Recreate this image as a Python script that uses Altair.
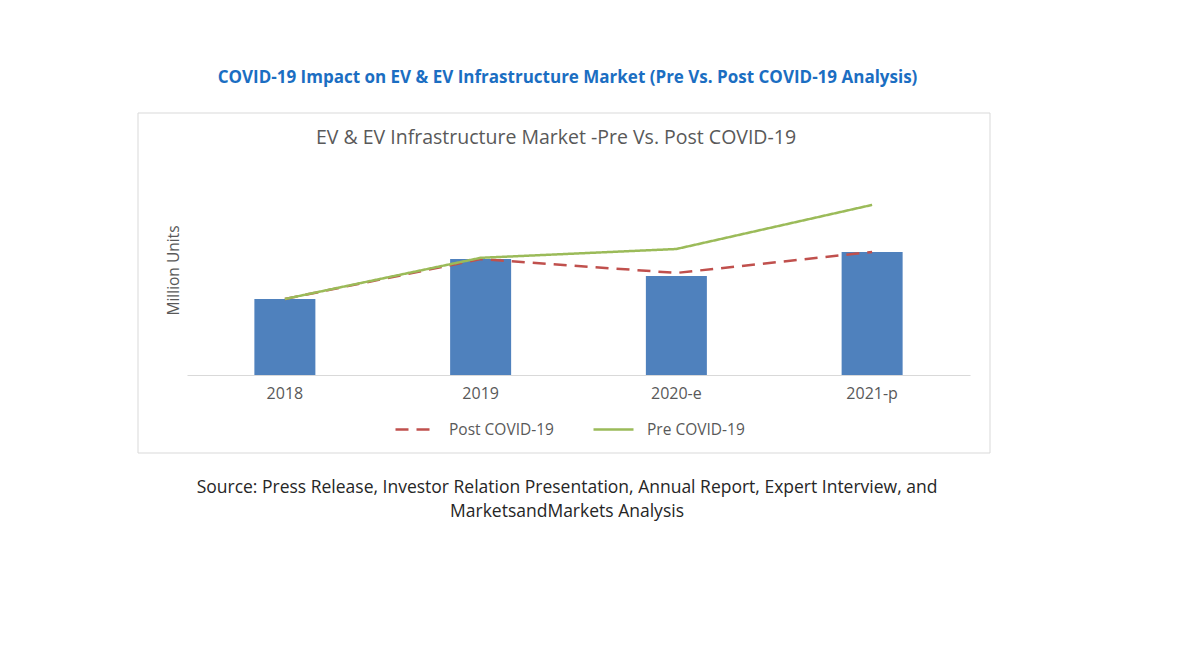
import altair as alt
import pandas as pd

FONT = "Open Sans"

years = ["2018", "2019", "2020-e", "2021-p"]
bar_values = [1.81, 2.76, 2.36, 2.93]
post_values = [1.81, 2.76, 2.43, 2.93]
pre_values = [1.81, 2.79, 3.00, 4.05]
series_names = ["Post COVID-19", "Pre COVID-19"]
series_colors = ["#C0504D", "#9BBB59"]

main_title = "COVID-19 Impact on EV & EV Infrastructure Market (Pre Vs. Post COVID-19 Analysis)"
inner_title = "EV & EV Infrastructure Market -Pre Vs. Post COVID-19"
source_lines = [
    "Source: Press Release, Investor Relation Presentation, Annual Report, Expert Interview, and",
    "MarketsandMarkets Analysis",
]

bars_df = pd.DataFrame({"year": years, "value": bar_values})
lines_df = pd.DataFrame({
    "year": years + years,
    "value": post_values + pre_values,
    "series": [series_names[0]] * len(years) + [series_names[1]] * len(years),
})
one = pd.DataFrame({"k": [0]})

W, H = 783, 210

x_enc = alt.X(
    "year:N", sort=years,
    scale=alt.Scale(paddingInner=0, paddingOuter=0),
    axis=alt.Axis(title=None, labelAngle=0, ticks=False, domainColor="#d9d9d9",
                  labelColor="#595959", labelFontSize=16, labelPadding=10,
                  labelFont=FONT, grid=False),
)
y_enc = alt.Y(
    "value:Q",
    scale=alt.Scale(domain=[0, 5], nice=False),
    axis=alt.Axis(title="Million Units", labels=False, ticks=False, domain=False,
                  grid=False, titleColor="#595959", titleFontSize=15.5, titleFont=FONT,
                  titleFontWeight="normal", titlePadding=6),
)

legend = alt.Legend(
    orient="none", legendX=207, legendY=243, direction="horizontal", title=None,
    symbolType="stroke", symbolSize=1600, symbolStrokeWidth=2.5,
    labelFontSize=15.5, labelColor="#595959", labelFont=FONT,
    columnPadding=34, labelOffset=12,
)

frame = alt.Chart(one).mark_rect(fill="transparent", stroke="#d9d9d9", strokeWidth=1).encode(
    x=alt.value(-49), x2=alt.value(803), y=alt.value(-52), y2=alt.value(288)
)

bars = alt.Chart(bars_df).mark_bar(size=61, color="#4F81BD").encode(x=x_enc, y=y_enc)

lines = alt.Chart(lines_df).mark_line(strokeWidth=2.5).encode(
    x=x_enc,
    y=y_enc,
    color=alt.Color("series:N", scale=alt.Scale(domain=series_names, range=series_colors), legend=legend),
    strokeDash=alt.StrokeDash("series:N", scale=alt.Scale(domain=series_names, range=[[13, 8], [1, 0]]), legend=legend),
)

inner = alt.Chart(one).mark_text(
    text=inner_title, font=FONT, fontSize=19.5, color="#595959", baseline="middle", align="center"
).encode(x=alt.value(369), y=alt.value(-27))

source = alt.Chart(one).mark_text(
    text=source_lines, font=FONT, fontSize=17.5, color="#262626", baseline="top",
    align="center", lineHeight=24
).encode(x=alt.value(380), y=alt.value(314))

chart = alt.layer(frame, bars, lines, inner, source).properties(
    width=W, height=H,
    title=alt.TitleParams(text=main_title, font=FONT, fontSize=17, fontWeight="bold",
                          color="#1B6EC2", anchor="middle", frame="group", dx=-11, offset=26),
    autosize=alt.AutoSizeParams(type="none"),
    padding={"left": 179, "top": 157, "right": 30, "bottom": 160},
).configure(background="white").configure_view(strokeWidth=0)

chart.save("out.html", embed_options={"renderer": "svg", "actions": False})
